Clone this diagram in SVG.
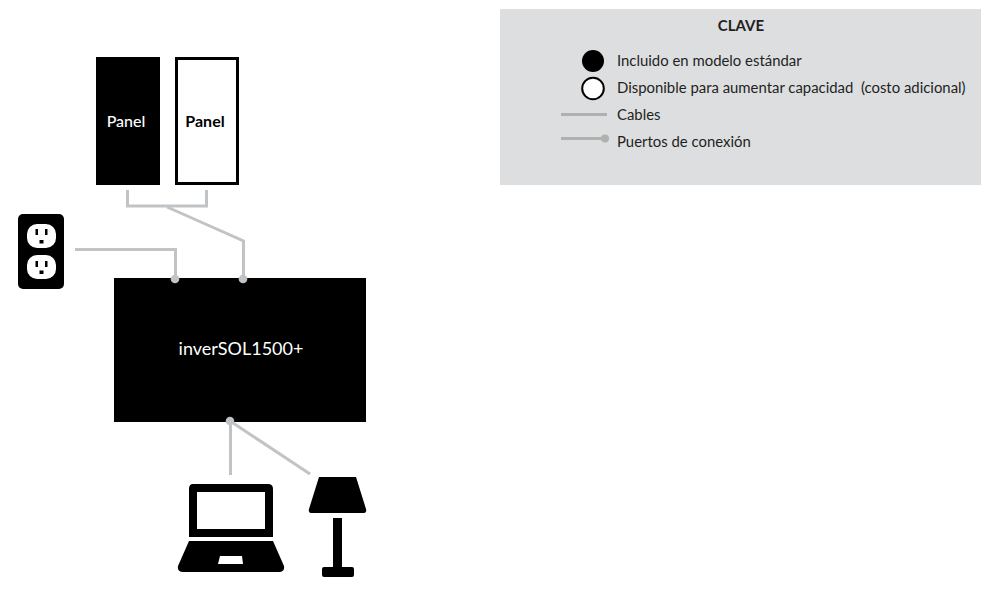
<svg xmlns="http://www.w3.org/2000/svg" width="988" height="595" viewBox="0 0 988 595">
<style>
text{font-family:Lato,"Liberation Sans",sans-serif}
.k{font-size:14.900px;fill:#231f20;white-space:pre}
.c{fill:none;stroke:#c1c4c6;stroke-width:3}
.p{fill:#c1c4c6}
.lg{fill:none;stroke:#b0b0ae;stroke-width:3}
</style>
<rect width="988" height="595" fill="#fff"/>
<g id="panel1"><rect x="96" y="57" width="64" height="128" fill="#000"/><text x="126" y="126" dy="0.500" text-anchor="middle" font-size="16" fill="#fff" font-weight="500">Panel</text></g>
<g id="panel2"><rect x="176.500" y="58.500" width="61" height="125" fill="#fff" stroke="#000" stroke-width="3"/><text x="205" y="126" dy="0.500" text-anchor="middle" font-size="16" fill="#000" font-weight="700">Panel</text></g>
<g id="outlet">
<rect x="18" y="214" width="46" height="75" rx="5" fill="#000"/>
<rect x="27" y="224" width="29" height="24" rx="10" fill="#fff"/>
<rect x="27" y="255" width="29" height="24" rx="10" fill="#fff"/>
<path d="M35.500 229h2.500v6h-2.500zM45 229h2.500v6h-2.500zM39.500 240h4v3.500h-4zM35.500 261h2.500v6h-2.500zM45 261h2.500v6h-2.500zM39.500 270.500h4v3.500h-4z" fill="#000"/>
</g>
<g id="inverter"><rect x="114" y="278" width="252" height="144" fill="#000"/><text x="241" y="355" text-anchor="middle" font-size="18" fill="#fff">inverSOL1500+</text></g>
<g id="laptop">
<path fill-rule="evenodd" d="M193 484H268Q273 484 273 489V537H189V489Q189 484 193 484ZM197 492V529H265V492Z" fill="#000"/>
<path fill-rule="evenodd" d="M189 541H273L284 566Q285 572 279 572H183Q177 572 178 566ZM220 556L218 564H243L242 556Z" fill="#000"/>
</g>
<g id="lamp">
<path d="M319 477H356L366 509Q367 513 363 513H312Q308 513 309 509Z" fill="#000"/>
<rect x="333" y="518" width="9" height="49" fill="#000"/>
<rect x="322" y="567" width="32" height="10" rx="2" fill="#000"/>
</g>
<g id="connectors">
<path class="c" d="M127.500 190V206H206.500V190"/>
<path class="c" d="M167 207L243.500 241V278"/>
<path class="c" d="M75 249.500H175.500V278"/>
<path class="c" d="M230.500 421V475"/>
<path class="c" d="M230 421L310 474"/>
<circle class="p" cx="175" cy="279" r="4.300"/>
<circle class="p" cx="243" cy="279" r="4.300"/>
<circle class="p" cx="230" cy="421" r="4.300"/>
</g>
<g id="legend">
<rect x="500" y="9" width="481" height="176" fill="#dddee0"/>
<text x="741" y="31" text-anchor="middle" font-size="15" font-weight="700" fill="#231f20">CLAVE</text>
<circle cx="593" cy="61" r="11" fill="#000"/>
<circle cx="593" cy="88.500" r="10.800" fill="#fff" stroke="#000" stroke-width="2"/>
<path class="lg" d="M561 114.500H607"/>
<path class="lg" d="M561 138.500H604"/>
<circle cx="605" cy="138.500" r="4" fill="#b0b0ae"/>
<text class="k" x="617" y="66">Incluido en modelo estándar</text>
<text class="k" x="617" y="93">Disponible para aumentar capacidad  (costo adicional)</text>
<text class="k" x="617" y="120">Cables</text>
<text class="k" x="617" y="147">Puertos de conexión</text>
</g>
</svg>
